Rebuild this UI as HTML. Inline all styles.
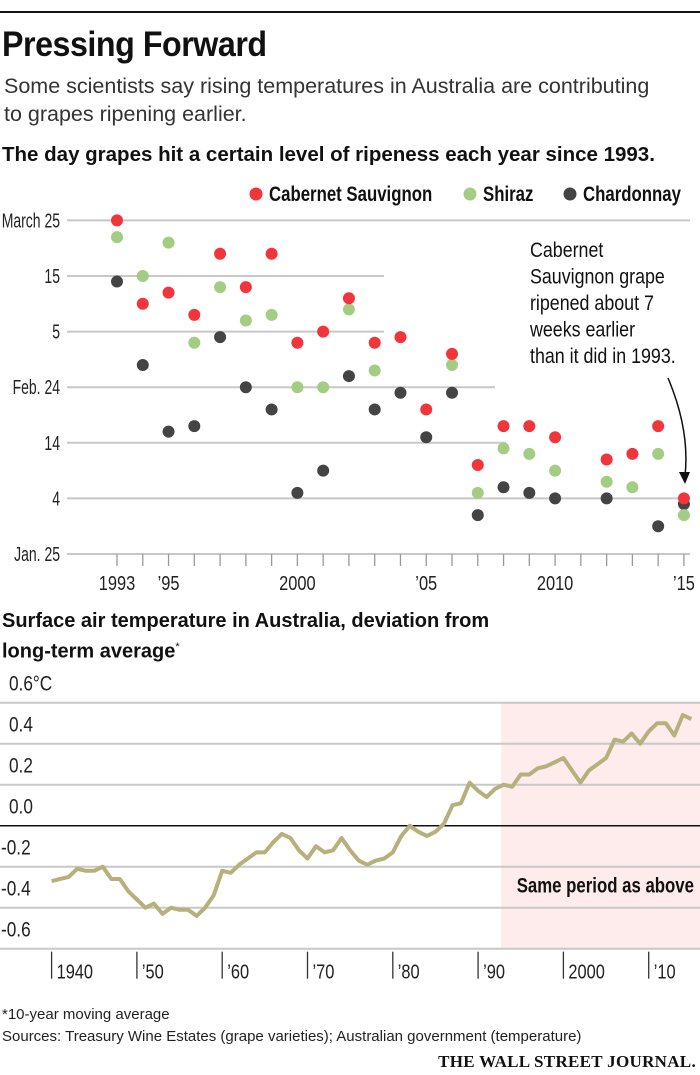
<!DOCTYPE html>
<html><head><meta charset="utf-8">
<style>
body{margin:0;background:#fff;}
#wrap{position:relative;width:700px;height:1075px;overflow:hidden;font-family:"Liberation Sans Narrow","Liberation Sans",sans-serif;color:#111;}
.t{position:absolute;white-space:nowrap;}
</style></head>
<body>
<div id="wrap">
<div style="position:absolute;left:0;top:11px;width:700px;height:2px;background:#111"></div>
<div class="t" style="left:2px;top:25px;font-size:35px;font-weight:bold;letter-spacing:-0.5px;transform:scaleX(0.92);transform-origin:left">Pressing Forward</div>
<div class="t" style="left:4px;top:72px;font-size:21.5px;line-height:28px;color:#333">Some scientists say rising temperatures in Australia are contributing<br>to grapes ripening earlier.</div>
<div class="t" style="left:2px;top:143px;font-size:20.5px;font-weight:bold">The day grapes hit a certain level of ripeness each year since 1993.</div>
<div class="t" style="left:2px;top:608px;font-size:20px;font-weight:bold;line-height:26px">Surface air temperature in Australia, deviation from<br>long-term average<sup style="font-size:11px;font-weight:normal">*</sup></div>
<div class="t" style="left:2px;top:1004px;font-size:15px;line-height:22px;color:#222">*10-year moving average<br>Sources: Treasury Wine Estates (grape varieties); Australian government (temperature)</div>
<div class="t" style="right:4px;top:1052px;font-family:'Liberation Serif',serif;font-size:17px;font-weight:bold;letter-spacing:0.3px">THE WALL STREET JOURNAL.</div>

<svg id="top" width="700" height="420" style="position:absolute;left:0;top:180px"></svg>
<svg id="bot" width="700" height="330" style="position:absolute;left:0;top:670px"></svg>
</div>
<script>
const years=[1993,1994,1995,1996,1997,1998,1999,2000,2001,2002,2003,2004,2005,2006,2007,2008,2009,2010,2011,2012,2013,2014,2015];
const cabernet=[60,45,47,43,54,48,54,38,40,46,38,39,26,36,16,23,23,21,null,17,18,23,10];
const shiraz=[57,50,56,38,48,42,43,30,30,44,33,null,null,34,11,19,18,15,null,13,12,18,7];
const chardonnay=[49,34,22,23,39,30,26,11,15,32,26,29,21,29,7,12,11,10,null,10,null,5,9];
const yTickVals=[60,50,40,30,20,10,0];
const yTickLabels=["March 25","15","5","Feb. 24","14","4","Jan. 25"];
const xLabelYears=[1993,1995,2000,2005,2010,2015];
const xLabels=["1993","’95","2000","’05","2010","’15"];

const tempYears=[1940,1941,1942,1943,1944,1945,1946,1947,1948,1949,1950,1951,1952,1953,1954,1955,1956,1957,1958,1959,1960,1961,1962,1963,1964,1965,1966,1967,1968,1969,1970,1971,1972,1973,1974,1975,1976,1977,1978,1979,1980,1981,1982,1983,1984,1985,1986,1987,1988,1989,1990,1991,1992,1993,1994,1995,1996,1997,1998,1999,2000,2001,2002,2003,2004,2005,2006,2007,2008,2009,2010,2011,2012,2013,2014,2015];
const tempVals=[-0.27,-0.26,-0.25,-0.21,-0.22,-0.22,-0.20,-0.26,-0.26,-0.32,-0.36,-0.40,-0.38,-0.43,-0.40,-0.41,-0.41,-0.44,-0.40,-0.34,-0.22,-0.23,-0.19,-0.16,-0.13,-0.13,-0.08,-0.04,-0.06,-0.12,-0.16,-0.10,-0.13,-0.12,-0.06,-0.12,-0.17,-0.19,-0.17,-0.16,-0.13,-0.05,0.00,-0.03,-0.05,-0.03,0.01,0.10,0.11,0.21,0.17,0.14,0.18,0.20,0.19,0.25,0.25,0.28,0.29,0.31,0.33,0.27,0.21,0.27,0.30,0.33,0.42,0.41,0.45,0.40,0.46,0.50,0.50,0.44,0.54,0.52];
const tempTicks=[0.6,0.4,0.2,0.0,-0.2,-0.4,-0.6];
const tempTickLabels=["0.6°C","0.4","0.2","0.0","-0.2","-0.4","-0.6"];
const decadeYears=[1940,1950,1960,1970,1980,1990,2000,2010];
const decadeLabels=["1940","’50","’60","’70","’80","’90","2000","’10"];

const NS="http://www.w3.org/2000/svg";
function mk(p,tag,a){const e=document.createElementNS(NS,tag);for(const k in a)e.setAttribute(k,a[k]);p.appendChild(e);return e;}
function sq(t,x,s){t.setAttribute('transform','translate('+x+',0) scale('+s+',1) translate('+(-x)+',0)');}

// top chart
const T=document.getElementById('top');
const X1=y=>117+(y-1993)*25.77;
const Y1=v=>374-v*5.56;
const gridEnds=[690,384,384,495,506,690,690];
yTickVals.forEach((v,i)=>{
  const l=mk(T,'line',{x1:67,x2:gridEnds[i],y1:Y1(v),y2:Y1(v),stroke:'#c8c8c8','stroke-width':2});
  
  
  const t=mk(T,'text',{x:60,y:Y1(v)+7,'text-anchor':'end','font-size':20,fill:'#222'});
  t.textContent=yTickLabels[i];
  sq(t,60,0.7);
  
  
});
years.forEach(y=>{
  const l=mk(T,'line',{x1:X1(y),x2:X1(y),y1:Y1(0),y2:Y1(0)+12,stroke:'#999','stroke-width':1.3});
  
  
});
xLabelYears.forEach((y,i)=>{
  const t=mk(T,'text',{x:X1(y),y:Y1(0)+36,'text-anchor':'middle','font-size':20,fill:'#222'});
  t.textContent=xLabels[i];
  sq(t,X1(y),0.82);
  
  
});
function dots(arr,col,name){arr.forEach((v,i)=>{if(v==null)return;
  const c=mk(T,'circle',{cx:X1(years[i]),cy:Y1(v),r:6,fill:col});
  
  });}
dots(chardonnay,'#444444','chardonnay-dot');
dots(shiraz,'#a3cd82','shiraz-dot');
dots(cabernet,'#f2343b','cabernet-dot');
[['#f2343b','Cabernet Sauvignon',256],['#a3cd82','Shiraz',470],['#444444','Chardonnay',570]].forEach(d=>{
  const c=mk(T,'circle',{cx:d[2],cy:14,r:6.5,fill:d[0]});
  
  
  const t=mk(T,'text',{x:d[2]+13,y:21,'font-size':21,'font-weight':'bold',fill:'#111'});
  t.textContent=d[1];
  sq(t,d[2]+13,0.8);
  
  
});
const ann=["Cabernet","Sauvignon grape","ripened about 7","weeks earlier","than it did in 1993."];
ann.forEach((s,i)=>{const t=mk(T,'text',{x:530,y:77+i*26.5,'font-size':21,fill:'#111'});t.textContent=s;
  sq(t,530,0.85);
  
  });
const ar=mk(T,'path',{d:'M668 198 Q690 250 685 296',fill:'none',stroke:'#111','stroke-width':1.5});


const ah=mk(T,'path',{d:'M679 292 L685 304 L690 292 Z',fill:'#111'});



// bottom chart
const B=document.getElementById('bot');
const X2=y=>51.6+(y-1940)*8.53;
const Y2=v=>155.7-v*205;
const sh=mk(B,'rect',{x:X2(1992.7),y:Y2(0.6),width:700-X2(1992.7),height:Y2(-0.6)-Y2(0.6),fill:'#fdeceb'});


tempTicks.forEach((v,i)=>{
  const l=mk(B,'line',{x1:0,x2:700,y1:Y2(v),y2:Y2(v),stroke:v===0?'#111':'#c8c8c8','stroke-width':v===0?1.5:2});
  
  
  const x=v<0?1:9;
  const t=mk(B,'text',{x:x,y:Y2(v)-12,'font-size':21,fill:'#222'});
  t.textContent=tempTickLabels[i];
  sq(t,x,0.82);
  
  
});
const st=mk(B,'text',{x:694,y:Y2(-0.4)-15,'text-anchor':'end','font-size':21,'font-weight':'bold',fill:'#111'});
st.textContent='Same period as above';
sq(st,694,0.8);


decadeYears.forEach((y,i)=>{
  const l=mk(B,'line',{x1:X2(y),x2:X2(y),y1:Y2(-0.6)+3,y2:Y2(-0.6)+30,stroke:'#333','stroke-width':1.3});
  
  
  const t=mk(B,'text',{x:X2(y)+5,y:Y2(-0.6)+30,'font-size':20,fill:'#222'});
  t.textContent=decadeLabels[i];
  sq(t,X2(y)+5,0.82);
  
  
});
const pl=mk(B,'polyline',{points:tempYears.map((y,i)=>X2(y)+','+Y2(tempVals[i])).join(' '),fill:'none',stroke:'#b5b07c','stroke-width':4,'stroke-linejoin':'round'});


</script>
</body></html>
